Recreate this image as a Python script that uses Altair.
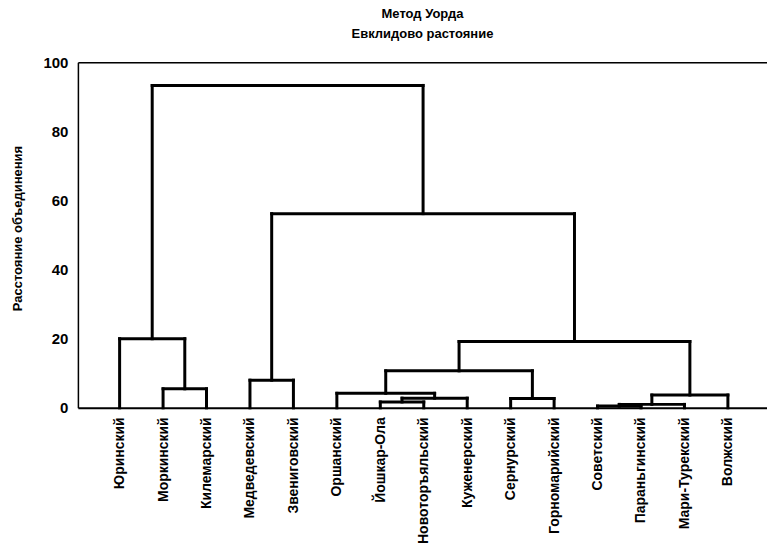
import json
import altair as alt
import pandas as pd

# Leaves of the dendrogram, in display order
leaves = ["Юринский", "Моркинский", "Килемарский", "Медведевский", "Звениговский",
          "Оршанский", "Йошкар-Ола", "Новоторъяльский", "Куженерский", "Сернурский",
          "Горномарийский", "Советский", "Параньгинский", "Мари-Турекский", "Волжский"]

# Linkage (scipy style): node id 15+k is formed by merging link_a[k] and link_b[k] at link_h[k]
link_a = [1, 0, 3, 6, 18, 5, 9, 20, 11, 23, 24, 22, 17, 16]
link_b = [2, 15, 4, 7, 8, 19, 10, 21, 12, 13, 14, 25, 26, 27]
link_h = [5.5, 20.0, 8.0, 1.7, 2.8, 4.2, 2.7, 10.7, 0.5, 1.0, 3.7, 19.2, 56.2, 93.3]

y_ticks = [0, 20, 40, 60, 80, 100]

# Build the link segments from the linkage
n = len(leaves)
pos = {i: float(i) for i in range(n)}
hgt = {i: 0.0 for i in range(n)}
segs = []
for k, (a, b, h) in enumerate(zip(link_a, link_b, link_h)):
    xa, xb = pos[a], pos[b]
    segs.append(dict(x=xa, x2=xa, y=hgt[a], y2=h))
    segs.append(dict(x=xb, x2=xb, y=hgt[b], y2=h))
    segs.append(dict(x=xa, x2=xb, y=h, y2=h))
    pos[n + k] = (xa + xb) / 2
    hgt[n + k] = h
df = pd.DataFrame(segs)

FONT = "Liberation Sans"
label_expr = json.dumps(leaves, ensure_ascii=False) + "[datum.value]"

xscale = alt.Scale(domain=[-0.96, 14.9], nice=False, zero=False)
yscale = alt.Scale(domain=[0, 100], nice=False)

links = alt.Chart(df).mark_rule(color="black", strokeWidth=3, strokeCap="square").encode(
    x=alt.X("x:Q", scale=xscale,
            axis=alt.Axis(values=list(range(n)), labelExpr=label_expr, labelAngle=-90,
                          ticks=False, grid=False, title=None, labelPadding=9,
                          labelFont=FONT, labelFontSize=14, labelFontWeight="bold",
                          labelColor="black", domainColor="black", domainWidth=2)),
    x2="x2:Q",
    y=alt.Y("y:Q", scale=yscale,
            axis=alt.Axis(values=y_ticks, ticks=False, grid=False, labelPadding=10,
                          labelFont=FONT, labelFontSize=15, labelFontWeight="bold",
                          labelColor="black", domainColor="black", domainWidth=1.5,
                          title="Расстояние объединения", titleFont=FONT, titleFontSize=13,
                          titleFontWeight="bold", titleColor="black",
                          titleX=-60, titleY=166, titleAngle=-90,
                          titleAlign="center", titleBaseline="middle")),
    y2="y2:Q",
)

frame_top = alt.Chart(df).mark_point(opacity=0).encode(
    x=alt.X("x:Q", scale=xscale,
            axis=alt.Axis(orient="top", labels=False, ticks=False, grid=False, title=None,
                          domainColor="black", domainWidth=1.5)),
    y=alt.Y("y:Q", scale=yscale),
)

chart = alt.layer(links, frame_top).resolve_axis(x="independent").properties(
    width=690, height=346,
    autosize=alt.AutoSizeParams(type="none"),
    padding={"left": 70, "top": 54, "right": 0, "bottom": 140},
    title=alt.TitleParams(["Метод Уорда", "Евклидово растояние"], font=FONT, fontSize=13,
                          fontWeight="bold", color="black", lineHeight=20, offset=14,
                          anchor="middle"),
).configure_view(stroke=None).configure(background="white")

chart.save("out.html", embed_options={"renderer": "svg", "actions": False})
